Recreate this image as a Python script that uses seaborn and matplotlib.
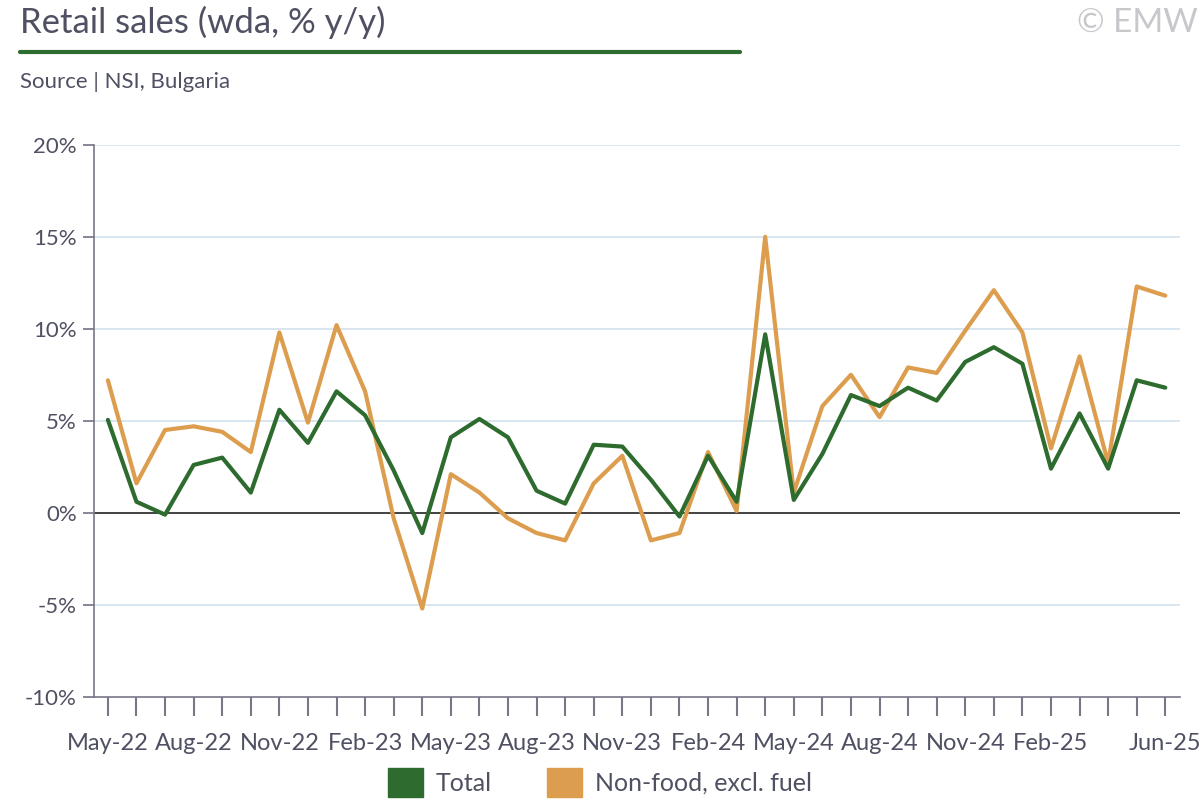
import matplotlib
matplotlib.use("Agg")
import matplotlib.pyplot as plt
import seaborn as sns
import pandas as pd
import numpy as np
from matplotlib.patches import Patch
from matplotlib.lines import Line2D

months = pd.date_range("2022-05-01", "2025-06-01", freq="MS").strftime("%b-%y").tolist()
total = [5.05,0.6,-0.1,2.6,3.0,1.1,5.6,3.8,6.6,5.3,2.3,-1.1,4.1,5.1,4.1,1.2,0.5,3.7,3.6,1.8,-0.2,3.1,0.6,9.7,0.7,3.2,6.4,5.8,6.8,6.1,8.2,9.0,8.1,2.4,5.4,2.4,7.2,6.8]
nonfood = [7.2,1.6,4.5,4.7,4.4,3.3,9.8,4.9,10.2,6.6,-0.3,-5.2,2.1,1.1,-0.3,-1.1,-1.5,1.6,3.1,-1.5,-1.1,3.3,0.1,15.0,1.1,5.8,7.5,5.2,7.9,7.6,9.9,12.1,9.8,3.5,8.5,2.7,12.3,11.8]
yticks = [-10,-5,0,5,10,15,20]

sns.set_theme(style="white")
plt.rcParams['font.family'] = ['Lato', 'DejaVu Sans']
GREEN = "#2e6b2e"; ORANGE = "#dc9e4e"; GREY = "#4f5062"

df = pd.DataFrame({"i": np.arange(len(months)), "Total": total, "Non-food, excl. fuel": nonfood})
fig = plt.figure(figsize=(12, 8), dpi=100)
ax = fig.add_axes([0.078, 0.129, 0.905, 0.69])
sns.lineplot(data=df, x="i", y="Non-food, excl. fuel", color=ORANGE, lw=3, ax=ax)
sns.lineplot(data=df, x="i", y="Total", color=GREEN, lw=3, ax=ax)
ax.set_ylim(-10, 20)
ax.set_xlim(-0.5, len(months) - 0.5)
ax.set_yticks(yticks)
ax.set_yticklabels([f"{v}%" for v in yticks], fontsize=16, color=GREY)
for v in yticks:
    if v != -10:
        ax.axhline(v, color="#d3e1ec" if v != 0 else "#222222", lw=1.2, zorder=0)
ax.set_xticks(np.arange(len(months)))
labs = [m if (k % 3 == 0 or k == len(months)-1) else "" for k, m in enumerate(months)]
labs[-2] = ""
ax.set_xticklabels(labs, fontsize=17, color=GREY)
ax.tick_params(axis="x", bottom=True, length=14, color="#777788", pad=12, width=1.5)
ax.tick_params(axis="y", left=True, length=8, color="#777788", pad=4)
ax.set_xlabel(""); ax.set_ylabel("")
for s in ["top", "right"]:
    ax.spines[s].set_visible(False)
for s in ["left", "bottom"]:
    ax.spines[s].set_color("#777788"); ax.spines[s].set_linewidth(1.2)

fig.text(0.017, 0.972, "Retail sales (wda, % y/y)", fontsize=25, color=GREY, va="center")
fig.add_artist(Line2D([0.017, 0.617], [0.935, 0.935], color=GREEN, lw=3))
fig.text(0.017, 0.898, "Source | NSI, Bulgaria", fontsize=16, color=GREY, va="center")
fig.text(0.998, 0.972, "© EMW", fontsize=24, color="#c8c8cc", va="center", ha="right")
handles = [Patch(color=GREEN, label="Total"), Patch(color=ORANGE, label="Non-food, excl. fuel")]
fig.legend(handles=handles, loc="center", bbox_to_anchor=(0.5, 0.022), ncol=2, frameon=False,
           handlelength=1.4, handleheight=1.4, columnspacing=2.2, labelcolor=GREY,
           handletextpad=0.5, prop={"size": 18})
fig.savefig("out.png")
